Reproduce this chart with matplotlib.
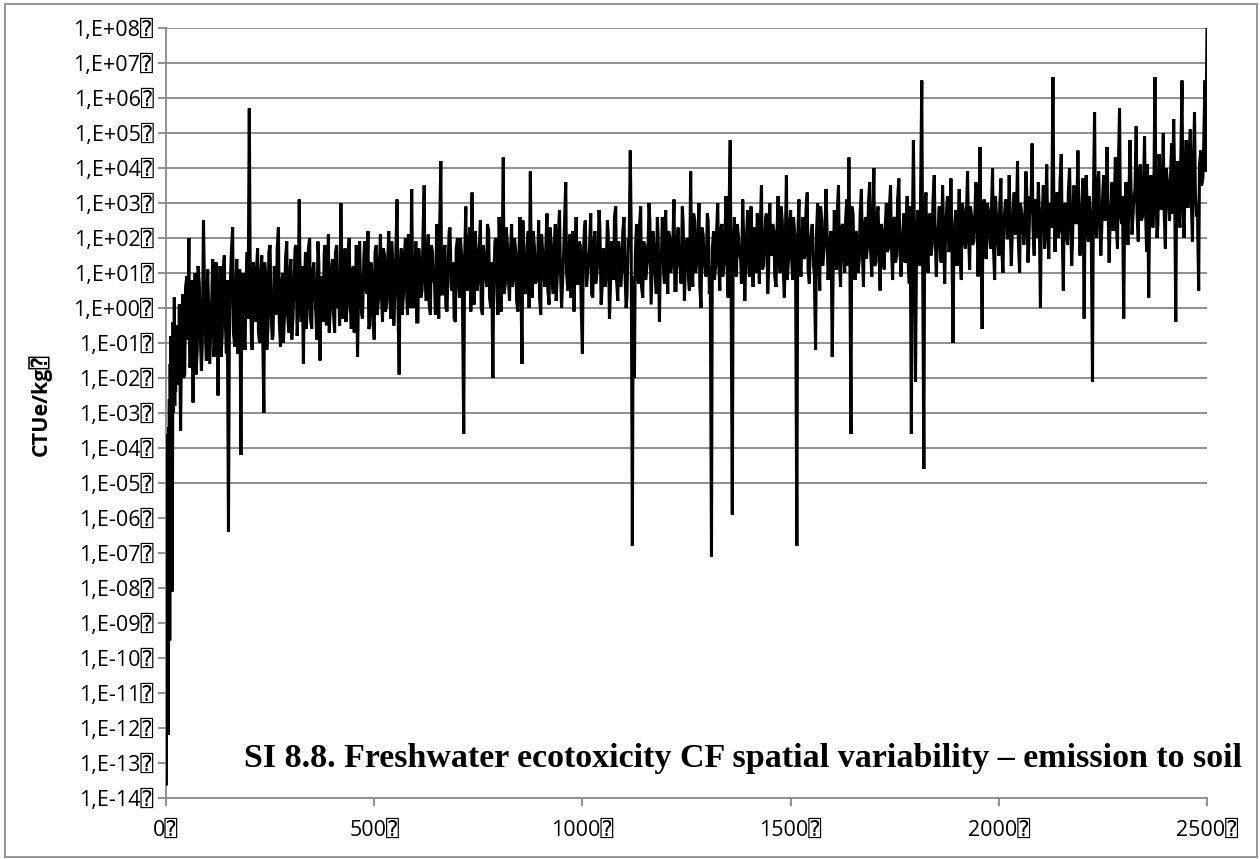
import numpy as np
import matplotlib
matplotlib.use("Agg")
import matplotlib.pyplot as plt
from matplotlib.patches import Rectangle

# ---------------- data (log10 of CF, CTUe/kg) ----------------
# first substances, one per rank
x_start = list(range(1, 25))
cf_exp_start = [-13.6, -4.3, -11.0, -3.6, -12.2, -3.4, -7.6, -2.6, -9.5, -1.6,
                -4.6, -0.8, -3.9, -1.2, -8.1, -3.3, -0.4, -3.0, -1.8, 0.3,
                -2.8, -1.0, -2.4, -0.5]

# substances read every 5 ranks (x = 25, 30, ..., 2500)
cf_exp_a = [
    -0.6, -2.2, -3.5, 0.4, -1.9, 0.9, 2.0, -1.5, -2.7, 1.0, -1.2, 0.7, -1.8, 2.5, -0.9, 1.1, -1.6, 0.3, -1.4, 1.3,
    -2.5, 1.2, -0.8, 1.5, -1.3, -6.4, 0.9, 2.3, -1.1, 1.4, -0.6, -4.2, 1.0, -1.2, 1.6, 5.7, -0.9, 1.3, -0.4, 1.7,
    -1.0, 1.5, -3.0, 0.8, -0.5, 1.8, -0.9, 1.2, -0.2, 2.3, -1.1, 1.0, 0.0, 1.9, -0.7, 1.4, -0.3, 1.7, -0.8, 3.1,
    -0.4, -1.6, 1.6, 0.2, 2.0, -0.6, 1.3, -0.2, 1.9, -1.5, 0.9, 1.6, -0.5, 2.1, 0.1, 1.4, -0.7, 1.8, 0.3, 3.0,
    -0.3, 1.7, 0.0, 2.0, -0.6, 1.2, 0.4, -1.4, 1.9, -0.2, 1.4, 0.6, 2.2, -0.5, 1.0, -0.9, 1.8, 0.2, 2.1, -0.4,
    1.5, 0.1, 2.2, -0.3, 1.2, 0.6, 3.1, -1.9, 1.7, 0.3, 2.0, -0.2, 1.4, 3.4, 0.0, 1.9, -0.4, 1.1, 0.5, 3.5,
    0.2, 2.1, -0.2, 1.6, 0.7, 2.4, -0.3, 4.2, 0.4, 1.8, -0.1, 2.2, 0.6, 1.3, -0.4, 2.0, 0.3, 1.5, -3.6, 2.9,
    0.5, 2.3, 3.3, 0.1, 1.7, 0.8, 2.5, -0.2, 1.4, 0.6, 2.2, 0.0, -2.0, 1.9, 0.4, 2.6, -0.1, 4.3, 0.7, 1.8,
    0.2, 2.4, 0.9, 1.6, -0.1, 2.6, -1.6, 1.3, 0.5, 2.2, 3.9, 0.3, 1.7, 0.8, 2.5, -0.2, 1.5, 0.6, 2.7, 0.1,
    1.9, 0.4, 2.4, 1.0, 2.8, 0.0, 1.6, 3.6, 0.5, 2.1, 1.2, -0.1, 2.6, 0.7, 1.8, -1.3, 2.3, 0.6, 1.4, 2.7,
    0.3, 2.2, 1.0, 2.8, 0.1, 1.7, 0.6, 2.5, -0.3, 1.9, 0.8, 2.9, 0.2, 1.5, 1.1, 2.6, 0.0, 2.0, 4.5, -6.8,
    -2.0, 2.4, 0.7, 2.9, 0.3, 1.8, 1.2, 3.0, 0.1, 2.2, 0.9, 2.6, -0.4, 1.6, 1.0, 2.8, 0.4, 2.0, 1.3, 3.1,
    0.5, 2.3, 1.1, 2.9, 0.2, 1.9, 0.8, 3.9, 0.6, 2.5, 1.4, 3.0, 0.0, 2.1, 1.0, 2.7, 0.4, -7.1, 2.2, 1.2,
    3.0, 0.5, 2.4, 1.3, 3.2, 0.3, 4.8, -5.9, 2.6, 0.9, 2.0, 1.4, 3.1, 0.2, 2.3, 1.0, 2.9, 0.6, 1.8, 2.7,
    0.7, 3.5, 1.2, 2.6, 0.4, 3.0, 1.5, 2.2, 0.6, 3.2, 1.0, 2.5, 0.3, 3.8, 1.4, 2.8, 0.8, 2.1, -6.8, 3.1,
    0.9, 2.6, 1.5, 3.3, 0.7, 2.2, 1.2, -1.2, 3.0, 0.5, 2.5, 1.6, 3.4, 0.8, 2.0, -1.4, 2.8, 1.1, 3.5, 0.6,
    2.4, 1.0, 3.1, 4.3, -3.6, 2.7, 0.8, 2.0, 1.4, 3.4, 0.6, 2.6, 1.8, 3.6, 0.9, 4.0, 1.3, 2.9, 0.5, 2.2,
    1.1, 3.0, 1.7, 3.5, 0.8, 2.6, 1.5, 3.7, 0.9, 2.3, 1.3, 3.2, 0.7, -3.6, 4.8, -2.1, 2.8, 1.2, 6.5, -4.6,
    3.3, 1.0, 2.7, 1.8, 3.8, 0.9, 2.4, 1.4, 3.5, 0.7, 2.9, 1.6, 3.7, -1.0, 2.5, 1.2, 3.4, 0.8, 2.8, 1.7,
    3.9, 1.1, 2.6, 1.9, 3.6, 0.9, 4.6, -0.6, 3.1, 1.4, 2.8, 1.7, 4.0, 0.8, 2.5, 1.5, 3.7, 1.0, 2.9, 2.0,
    3.8, 1.2, 3.0, 2.1, 4.2, 1.0, 2.7, 1.8, 3.9, 1.3, 3.2, 4.7, 1.5, 2.5, 3.6, 0.0, 2.9, 1.7, 4.1, 1.4,
    2.8, 6.6, 1.6, 3.3, 2.2, 4.4, 0.5, 3.0, 1.8, 4.0, 1.2, 3.5, 2.4, 4.5, 1.5, 3.1, -0.3, 3.8, 1.9, 2.7,
    -2.1, 5.6, 2.0, 3.9, 1.5, 3.4, 2.5, 4.6, 1.3, 3.0, 2.2, 4.3, 1.7, 5.7, 2.4, -0.3, 3.6, 1.8, 4.8, 2.1,
    3.2, 5.2, 1.9, 4.1, 2.6, 4.9, 1.6, 0.3, 3.8, 2.3, 6.6, 2.0, 4.4, 2.8, 5.0, 1.7, 3.6, 2.5, 4.7, 5.4,
    -0.4, 4.2, 2.3, 6.5, 2.0, 4.8, 2.9, 5.1, 1.9, 5.6, 2.6, 0.5, 4.5, 3.7, 6.5, 8.0,
]
x_a_first, x_a_step = 25, 5

# substances in between, read every 5 ranks (x = 27, 32, ..., 2497)
cf_exp_b = [
    -1.8, 0.1, -1.2, -2.0, 0.6, -0.9, -1.7, 0.8, -0.4, -1.9, 1.2, -0.6, -1.1, 0.9, -1.5, 0.2, -0.8, 1.4, -1.0, 0.5,
    -0.5, -1.4, 1.0, -0.2, 0.8, -1.0, 1.6, -0.7, 0.3, -1.3, 1.1, 0.2, -0.9, 0.7, -0.3, 1.5, -1.2, 0.4, 1.0, -0.7,
    0.9, -0.6, 1.3, -1.2, 1.6, 0.0, -0.8, 0.9, 1.7, -0.4, 0.6, -1.0, 1.4, -0.2, 1.0, -0.9, 0.5, 1.8, -0.1, 0.7,
    1.2, 0.4, -0.6, 1.7, -0.3, 1.0, 0.6, -0.9, 1.3, 0.2, -0.4, 1.8, 0.5, -0.7, 1.1, -0.1, 1.6, 0.0, -0.5, 1.4,
    0.8, -0.4, 1.5, 0.3, 1.0, -0.7, 1.8, 0.1, 0.7, -0.3, 1.9, 0.4, -0.6, 1.3, 0.0, 1.6, -0.2, 1.1, 0.5, 1.7,
    -0.1, 1.2, 0.5, 1.9, -0.5, 1.6, 0.2, 0.9, -0.2, 1.4, 0.7, 2.1, 0.0, 1.0, 0.6, -0.4, 1.7, 0.3, 2.0, 0.9,
    1.4, 0.1, 1.8, 0.8, -0.2, 1.2, 2.1, 0.4, 1.6, 0.0, 1.0, 2.3, 0.5, -0.3, 1.7, 0.9, 2.0, 0.2, 1.3, 0.6,
    1.9, -0.1, 1.1, 2.2, 0.5, 1.5, 0.0, 1.8, 1.0, 2.4, 0.3, 1.3, 0.8, 2.0, -0.2, 1.6, 1.1, 0.4, 2.3, 0.9,
    1.5, 0.6, 2.0, 0.2, 1.2, 0.9, 2.5, 0.4, 1.8, 0.0, 1.4, 2.2, 0.7, 1.1, 0.3, 2.1, 1.0, 1.7, 0.5, 2.3,
    0.8, 1.6, 0.2, 2.0, 1.2, 0.6, 2.4, 1.0, 1.5, 0.3, 2.2, 1.3, 0.7, 1.9, 0.1, 1.4, 2.5, 0.9, 1.7, 0.4,
    1.8, 0.7, 1.4, 2.3, 0.5, 1.6, 1.0, 2.1, 0.4, 1.3, 2.6, 0.8, 1.9, 0.6, 2.2, 1.1, 0.3, 1.7, 2.4, 0.9,
    1.5, 1.0, 2.3, 0.6, 1.9, 0.8, 1.4, 2.5, 0.9, 1.7, 0.4, 2.0, 1.3, 2.6, 0.7, 1.5, 2.2, 1.0, 1.8, 0.5,
    1.9, 1.3, 0.7, 2.4, 1.1, 2.0, 0.5, 1.6, 2.7, 1.0, 1.8, 0.6, 2.3, 1.4, 0.9, 2.5, 1.2, 1.7, 0.8, 2.1,
    1.4, 2.2, 0.9, 1.9, 1.3, 2.6, 0.8, 1.6, 1.1, 2.4, 1.5, 0.7, 2.1, 1.2, 2.8, 0.9, 1.7, 2.3, 1.0, 1.9,
    2.2, 1.1, 1.8, 2.7, 1.0, 1.6, 2.4, 0.9, 2.0, 1.4, 2.9, 1.2, 1.7, 0.8, 2.3, 1.5, 2.6, 1.1, 1.9, 1.3,
    2.0, 1.4, 2.8, 1.1, 1.8, 2.4, 1.0, 2.1, 1.6, 2.9, 1.2, 1.9, 2.5, 1.3, 2.2, 0.9, 1.7, 2.7, 1.4, 2.3,
    1.6, 2.5, 1.2, 2.0, 2.9, 1.5, 2.2, 1.0, 2.7, 1.8, 2.3, 1.4, 3.0, 1.7, 2.1, 1.2, 2.6, 1.9, 2.4, 1.3,
    2.3, 1.6, 2.8, 1.9, 2.5, 1.3, 3.1, 2.0, 1.5, 2.7, 2.2, 1.4, 2.9, 1.8, 2.4, 1.1, 2.6, 3.0, 1.7, 2.5,
    1.9, 2.6, 1.5, 3.1, 2.2, 1.8, 2.9, 1.3, 2.4, 2.0, 3.2, 1.7, 2.3, 1.6, 2.8, 2.1, 1.5, 3.0, 1.9, 2.6,
    2.2, 2.9, 1.8, 2.5, 3.3, 1.9, 2.3, 2.7, 1.6, 3.0, 2.2, 2.6, 1.8, 3.2, 2.1, 2.8, 1.7, 2.4, 3.1, 2.0,
    2.5, 2.0, 3.3, 2.4, 1.9, 3.0, 2.6, 2.2, 3.4, 1.8, 2.7, 2.3, 3.1, 2.0, 2.8, 2.5, 3.5, 2.1, 2.6, 3.0,
    2.3, 3.2, 2.6, 2.0, 3.6, 2.4, 2.9, 2.2, 3.3, 2.7, 1.9, 3.4, 2.5, 3.0, 2.1, 3.7, 2.6, 2.8, 3.2, 2.2,
    3.0, 2.4, 3.5, 2.7, 2.2, 3.8, 2.6, 3.1, 2.3, 3.6, 2.9, 2.5, 3.9, 2.7, 3.2, 2.4, 3.4, 2.8, 3.7, 2.6,
    3.4, 2.7, 3.9, 2.5, 3.3, 3.0, 4.1, 2.6, 3.5, 2.9, 3.7, 2.4, 3.8, 3.1, 2.8, 4.0, 3.2, 3.6, 2.7, 3.9,
    3.3, 2.8, 4.2, 3.0, 3.6, 2.9, 4.4, 3.2, 3.8, 3.4, 2.8, 4.1, 3.5, 4.6, 3.9,
]
x_b_first, x_b_step = 27, 5

ytick_exponents = list(range(-14, 9))
grid_exponents = list(range(-5, 9))
xticks = [0, 500, 1000, 1500, 2000, 2500]

BOX = "\u2370"
ytick_labels = [f"1,E{e:+03d}{BOX}" for e in ytick_exponents]
xtick_labels = [f"{v}{BOX}" for v in xticks]
y_label = "CTUe/kg" + BOX
title = "SI 8.8. Freshwater ecotoxicity CF spatial variability \u2013 emission to soil"

# ---------------- build series (ordered by rank) ----------------
x_a = x_a_first + x_a_step * np.arange(len(cf_exp_a))
x_b = x_b_first + x_b_step * np.arange(len(cf_exp_b))
x_all = np.concatenate([np.array(x_start, float), x_a, x_b]).astype(float)
e_all = np.concatenate([np.array(cf_exp_start), np.array(cf_exp_a), np.array(cf_exp_b)])
order = np.argsort(x_all, kind="stable")
x_all = x_all[order]
cf_all = 10.0 ** e_all[order]

# ---------------- figure ----------------
W, H, DPI = 1260, 859, 100
fig = plt.figure(figsize=(W / DPI, H / DPI), dpi=DPI)
fig.patch.set_facecolor("white")

# outer chart border
fig.patches.append(Rectangle((5 / W, 2 / H), 1252 / W, 853 / H, transform=fig.transFigure,
                             fill=False, edgecolor="#8c8c8c", linewidth=1.3))

L, R, T, B = 166, 1207, 28, 798
ax = fig.add_axes([L / W, 1 - B / H, (R - L) / W, (B - T) / H])
ax.set_yscale("log")
ax.set_xlim(0, 2500)
ax.set_ylim(1e-14, 1e8)

grid_col = "#878787"
for e in grid_exponents:
    ax.axhline(10.0 ** e, color=grid_col, lw=1.3, zorder=1)

ax.plot(x_all, cf_all, color="black", lw=2.2, zorder=3, solid_joinstyle="miter")

for s in ["top", "right"]:
    ax.spines[s].set_visible(False)
for s in ["left", "bottom"]:
    ax.spines[s].set_color(grid_col)
    ax.spines[s].set_linewidth(1.3)
    ax.spines[s].set_zorder(2)

tick_font = ["Open Sans", "DejaVu Sans", "DejaVu Sans Mono"]
ax.set_yticks([10.0 ** e for e in ytick_exponents])
ax.set_yticklabels(ytick_labels, family=tick_font, fontsize=15.5)
ax.yaxis.set_minor_locator(matplotlib.ticker.NullLocator())
ax.set_xticks(xticks)
ax.set_xticklabels(xtick_labels, family=tick_font, fontsize=15.5)
ax.tick_params(axis="both", which="major", direction="out", length=6, width=1.3,
               color=grid_col, labelcolor="black")
ax.tick_params(axis="y", pad=3)
ax.tick_params(axis="x", pad=10)

fig.text(40 / W, 1 - 405 / H, y_label, rotation=90, ha="center", va="center",
         family=["Open Sans", "DejaVu Sans", "DejaVu Sans Mono"], fontweight="bold", fontsize=15.5)

# title, fitted to reference width
t = fig.text(1242 / W, 1 - 767 / H, title, ha="right", va="baseline",
             family=["Liberation Serif", "DejaVu Serif"], fontweight="bold", fontsize=24)
fig.canvas.draw()
ext = t.get_window_extent(fig.canvas.get_renderer())
t.set_fontsize(24 * 1002 / ext.width)

fig.savefig("out.png", dpi=DPI, facecolor="white")
